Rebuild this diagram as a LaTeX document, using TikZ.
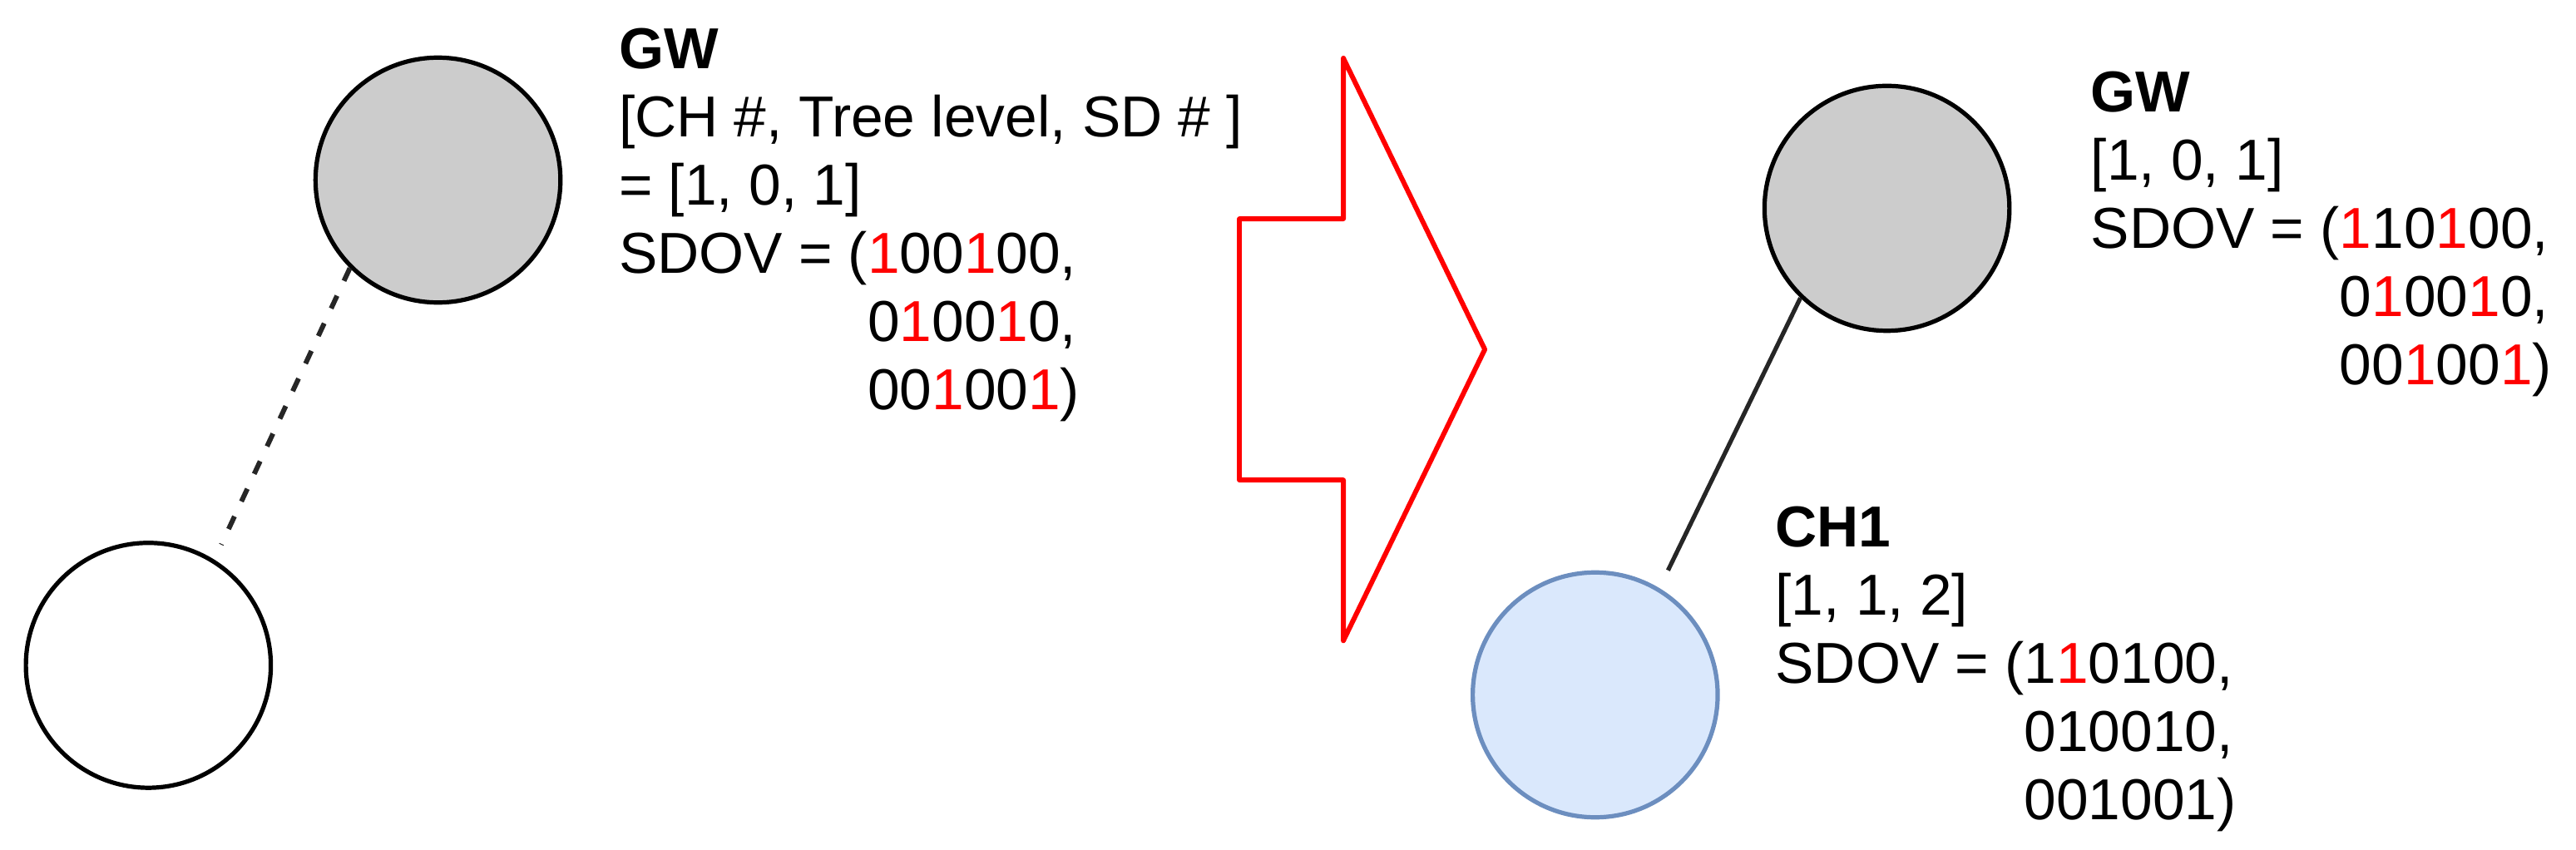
\documentclass[tikz,border=0pt]{standalone}
\usepackage{fontspec}
\setmainfont{Liberation Sans}
\definecolor{nodegray}{HTML}{CCCCCC}
\definecolor{chfill}{HTML}{DAE8FC}
\definecolor{chline}{HTML}{6C8EBF}
\definecolor{arrred}{HTML}{FF0000}
\newcommand{\rdg}[1]{\textcolor{arrred}{#1}}
\newcommand{\txtblock}[1]{\vtop{\baselineskip=11.8pt\lineskiplimit=-20pt\lineskip=0pt #1}}
\newcommand{\cont}{\phantom{SDOV = (}}
\begin{document}
\begin{tikzpicture}[x=0.01cm,y=-0.01cm,
  nodecirc/.style={circle,draw=black,line width=0.75pt,minimum size=1.49cm,inner sep=0pt},
  gwnode/.style={nodecirc,fill=nodegray},
  sdnode/.style={nodecirc,fill=white},
  chnode/.style={nodecirc,draw=chline,fill=chfill},
  lbl/.style={anchor=base west,inner sep=0pt,align=left,font=\fontsize{10pt}{11.8pt}\selectfont},
  link/.style={line width=0.75pt,draw=black!85},
  dashlink/.style={link,line width=0.85pt,dash pattern=on 0.085cm off 0.1cm},
  bigarrow/.style={draw=arrred,line width=0.85pt,line join=round}]
\useasboundingbox (0,0) rectangle (1568,517);

% left side
\node[gwnode] (gwL) at (266.6,109.6) {};
\node[sdnode] (sd) at (90.3,405) {};
\draw[dashlink,shorten >=0.1cm] (gwL.225) -- (sd.58.6);
\node[lbl] (gwLtxt) at (376,42) {\txtblock{%
  \hbox{\bfseries GW}%
  \hbox{[CH \#, Tree level, SD \# ]}%
  \hbox{= [1, 0, 1]}%
  \hbox{SDOV = (\rdg{1}00\rdg{1}00,}%
  \hbox{\cont 0\rdg{1}00\rdg{1}0,}%
  \hbox{\cont 00\rdg{1}00\rdg{1})}}};

% big arrow
\draw[bigarrow] (754.4,133.2) -- (817.7,133.2) -- (817.7,35.4) -- (903.8,212.7)
  -- (817.7,390) -- (817.7,292.2) -- (754.4,292.2) -- cycle;

% right side
\node[gwnode] (gwR) at (1148.6,126.8) {};
\node[chnode] (ch) at (971,423) {};
\draw[link,shorten >=0.12cm] (gwR.226) -- (ch.59);
\node[lbl] (gwRtxt) at (1272,68) {\txtblock{%
  \hbox{\bfseries GW}%
  \hbox{[1, 0, 1]}%
  \hbox{SDOV = (\rdg{1}10\rdg{1}00,}%
  \hbox{\cont 0\rdg{1}00\rdg{1}0,}%
  \hbox{\cont 00\rdg{1}00\rdg{1})}}};
\node[lbl] (chtxt) at (1080,333) {\txtblock{%
  \hbox{\bfseries CH1}%
  \hbox{[1, 1, 2]}%
  \hbox{SDOV = (1\rdg{1}0100,}%
  \hbox{\cont 010010,}%
  \hbox{\cont 001001)}}};
\end{tikzpicture}
\end{document}
